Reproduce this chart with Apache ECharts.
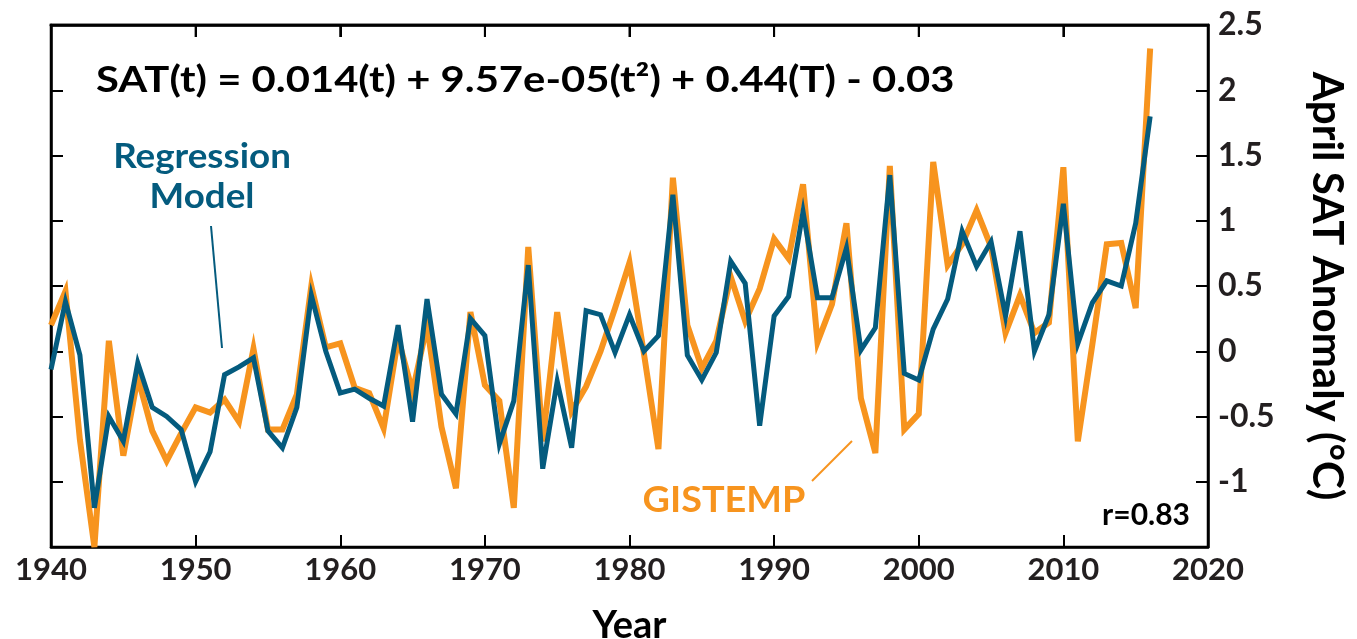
<!DOCTYPE html>
<html>
<head>
<meta charset="utf-8">
<script src="https://cdn.jsdelivr.net/npm/echarts@6/dist/echarts.min.js"></script>
<style>
html,body{margin:0;padding:0;background:#fff;}
#chart{width:1357px;height:639px;}
</style>
</head>
<body>
<div id="chart"></div>
<script>
const years = [1940,1941,1942,1943,1944,1945,1946,1947,1948,1949,
  1950,1951,1952,1953,1954,1955,1956,1957,1958,1959,
  1960,1961,1962,1963,1964,1965,1966,1967,1968,1969,
  1970,1971,1972,1973,1974,1975,1976,1977,1978,1979,
  1980,1981,1982,1983,1984,1985,1986,1987,1988,1989,
  1990,1991,1992,1993,1994,1995,1996,1997,1998,1999,
  2000,2001,2002,2003,2004,2005,2006,2007,2008,2009,
  2010,2011,2012,2013,2014,2015,2016];

const gistemp = [0.20,0.46,-0.68,-1.50,0.08,-0.80,-0.20,-0.61,-0.84,-0.63,
  -0.43,-0.47,-0.37,-0.54,0.02,-0.60,-0.60,-0.33,0.50,0.03,
  0.06,-0.28,-0.32,-0.59,0.10,-0.31,0.20,-0.58,-1.05,0.30,
  -0.26,-0.38,-1.20,0.80,-0.69,0.30,-0.46,-0.27,0.00,0.33,
  0.68,-0.02,-0.75,1.33,0.20,-0.13,0.08,0.57,0.23,0.48,
  0.86,0.71,1.28,0.07,0.36,0.98,-0.36,-0.78,1.42,-0.60,
  -0.48,1.45,0.66,0.82,1.08,0.80,0.14,0.43,0.14,0.22,
  1.41,-0.69,0.05,0.82,0.83,0.33,2.32];

const model = [-0.14,0.38,-0.03,-1.20,-0.50,-0.69,-0.09,-0.43,-0.50,-0.60,
  -1.00,-0.77,-0.18,-0.12,-0.05,-0.61,-0.74,-0.43,0.43,0.00,
  -0.32,-0.29,-0.36,-0.42,0.20,-0.54,0.40,-0.33,-0.48,0.25,
  0.12,-0.71,-0.38,0.66,-0.90,-0.23,-0.74,0.31,0.28,-0.01,
  0.28,0.00,0.12,1.20,-0.03,-0.22,-0.01,0.69,0.52,-0.57,
  0.27,0.42,1.07,0.41,0.41,0.79,0.01,0.18,1.35,-0.17,
  -0.22,0.17,0.40,0.92,0.65,0.84,0.27,0.92,0.00,0.28,
  1.13,0.06,0.37,0.54,0.50,0.98,1.80];

const xTicks = {min:1940, max:2020, step:10};
const yTicks = {min:-1.5, max:2.5, step:0.5};

const ORANGE = '#F7941E';
const BLUE = '#045B7E';
const INK = '#231f20';
const FONT = 'Lato';

const chart = echarts.init(document.getElementById('chart'));
const axisLine = {show:true, onZero:false, lineStyle:{color:'#000', width:2.5}};
const tickIn = {show:true, inside:true, length:12, lineStyle:{color:'#000', width:2}};

const baseGraphic = [
  {type:'text', x:96, y:80, scaleX:1.16, style:{text:'SAT(t) = 0.014(t) + 9.57e-05(t²) + 0.44(T) - 0.03',
    verticalAlign:'middle', fill:'#000', font:'bold 36px Lato'}},
  {type:'text', x:202, y:137, scaleX:1.05, style:{text:'Regression\nModel', align:'center', lineHeight:40,
    fill:BLUE, font:'bold 35px Lato'}},
  {type:'line', shape:{x1:211, y1:226, x2:222, y2:348}, style:{stroke:BLUE, lineWidth:2}},
  {type:'text', x:724, y:500, scaleX:1.05, style:{text:'GISTEMP', align:'center', verticalAlign:'middle', fill:ORANGE, font:'bold 36px Lato'}},
  {type:'line', shape:{x1:812, y1:481, x2:852, y2:441}, style:{stroke:ORANGE, lineWidth:2}},
  {type:'text', x:1190, y:515, style:{text:'r=0.83', align:'right', verticalAlign:'middle', fill:'#000', font:'bold 30px Lato'}}
];

chart.setOption({
  animation:false,
  backgroundColor:'#fff',
  grid:{left:51, right:149, top:25, bottom:92, containLabel:false, outerBoundsMode:'none',
        show:true, borderColor:'#000', borderWidth:2.5, backgroundColor:'rgba(0,0,0,0)'},
  xAxis:[
    {type:'value', position:'bottom', min:xTicks.min, max:xTicks.max, interval:xTicks.step,
     axisLine:axisLine, axisTick:tickIn, splitLine:{show:false},
     axisLabel:{color:INK, fontFamily:FONT, fontWeight:'bold', fontSize:31, margin:7,
       formatter:function(v){ return String(v); }},
     name:'Year', nameLocation:'middle', nameGap:60,
     nameTextStyle:{color:'#000', fontFamily:FONT, fontWeight:'bold', fontSize:38}},
    {type:'value', position:'top', min:xTicks.min, max:xTicks.max, interval:xTicks.step,
     axisLine:axisLine, axisTick:tickIn, axisLabel:{show:false}, splitLine:{show:false}}
  ],
  yAxis:[
    {type:'value', position:'right', min:yTicks.min, max:yTicks.max, interval:yTicks.step,
     axisLine:axisLine, axisTick:tickIn, splitLine:{show:false},
     axisLabel:{color:INK, fontFamily:FONT, fontWeight:'bold', fontSize:32, margin:10,
       formatter:function(v){ return v <= yTicks.min ? '' : String(v); }},
     name:'April SAT Anomaly (°C)', nameLocation:'middle', nameRotate:-90, nameGap:98,
     nameTextStyle:{color:'#000', fontFamily:FONT, fontWeight:'bold', fontSize:42}},
    {type:'value', position:'left', min:yTicks.min, max:yTicks.max, interval:yTicks.step,
     axisLine:axisLine, axisTick:tickIn, axisLabel:{show:false}, splitLine:{show:false}}
  ],
  series:[
    {name:'GISTEMP', type:'line', xAxisIndex:0, yAxisIndex:0, showSymbol:false, clip:false,
     data:years.map((y,i)=>[y, gistemp[i]]),
     lineStyle:{color:ORANGE, width:6, join:'miter', miterLimit:6}, z:2},
    {name:'Regression Model', type:'line', xAxisIndex:0, yAxisIndex:0, showSymbol:false, clip:false,
     data:years.map((y,i)=>[y, model[i]]),
     lineStyle:{color:BLUE, width:5, join:'miter', miterLimit:6}, z:3}
  ],
  graphic:baseGraphic
});

// top frame edge with inward ticks as filled rects, positioned through the grid's scales
function toPx(x, y) {
  const p = chart.convertToPixel({gridIndex:0}, [x, y]);
  return (p && isFinite(p[0]) && isFinite(p[1])) ? p : null;
}
const topEls = [];
const pL = toPx(xTicks.min, yTicks.max);
const pR = toPx(xTicks.max, yTicks.max);
if (pL && pR) {
  topEls.push({type:'rect', z:100, shape:{x:pL[0]-1.25, y:pL[1]-1.25, width:(pR[0]-pL[0])+2.5, height:2.5},
    style:{fill:'#000'}});
  for (let v = xTicks.min + xTicks.step; v < xTicks.max; v += xTicks.step) {
    const p = toPx(v, yTicks.max);
    if (p) topEls.push({type:'rect', z:100, shape:{x:p[0]-1, y:p[1], width:2, height:12},
      style:{fill:'#000'}});
  }
}
chart.setOption({graphic: baseGraphic.concat(topEls)});
</script>
</body>
</html>
